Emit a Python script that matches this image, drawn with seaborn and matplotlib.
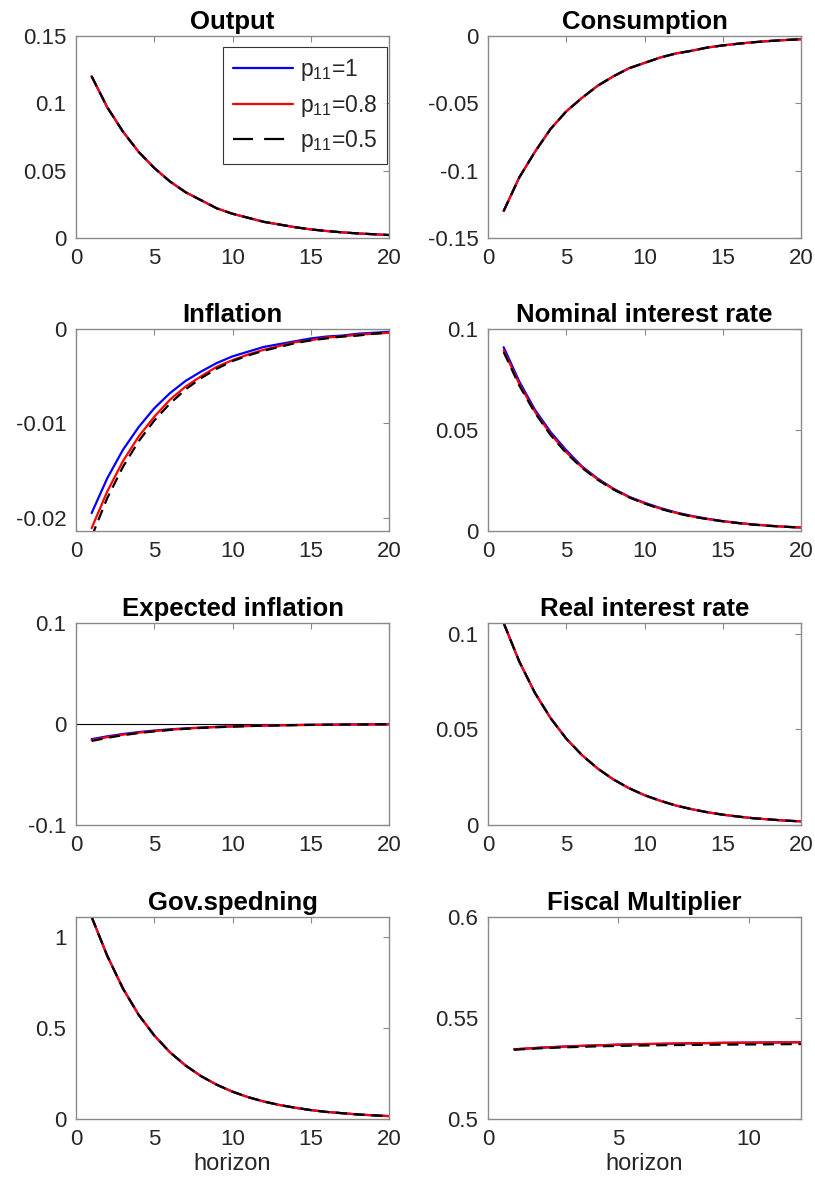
import numpy as np
import matplotlib
matplotlib.use("Agg")
import matplotlib.pyplot as plt
import seaborn as sns

sns.set_theme(style="white")
plt.rcParams["font.family"] = ["Liberation Sans", "DejaVu Sans"]
plt.rcParams["mathtext.fontset"] = "custom"
plt.rcParams["mathtext.rm"] = "Liberation Sans"
plt.rcParams["mathtext.it"] = "Liberation Sans"

horizon = list(range(1, 21))
horizon_fm = list(range(1, 13))
labels = [r"p$_{11}$=1", r"p$_{11}$=0.8", r"p$_{11}$=0.5"]

# Impulse responses: one list per regime (p11=1, p11=0.8, p11=0.5)
output_p1 = [0.120, 0.097, 0.079, 0.064, 0.052, 0.042, 0.034, 0.028, 0.022, 0.018,
             0.015, 0.012, 0.010, 0.008, 0.0064, 0.0052, 0.0042, 0.0034, 0.0028, 0.0022]
output_p08 = list(output_p1)
output_p05 = list(output_p1)

cons_p1 = [-0.130, -0.105, -0.086, -0.069, -0.056, -0.046, -0.037, -0.030, -0.024, -0.020,
           -0.016, -0.013, -0.011, -0.0086, -0.0070, -0.0057, -0.0046, -0.0037, -0.0030, -0.0024]
cons_p08 = list(cons_p1)
cons_p05 = list(cons_p1)

infl_p1 = [-0.0195, -0.0158, -0.0128, -0.0104, -0.0084, -0.0068, -0.0055, -0.0045, -0.0036, -0.0029,
           -0.0024, -0.0019, -0.0016, -0.0013, -0.0010, -0.0008, -0.0007, -0.0005, -0.0004, -0.0003]
infl_p08 = [-0.0211, -0.0172, -0.0140, -0.0114, -0.0093, -0.0075, -0.0061, -0.0050, -0.0040, -0.0033,
            -0.0027, -0.0022, -0.0018, -0.0014, -0.0012, -0.0009, -0.0008, -0.0006, -0.0005, -0.0004]
infl_p05 = [-0.0220, -0.0179, -0.0146, -0.0119, -0.0097, -0.0079, -0.0064, -0.0052, -0.0042, -0.0034,
            -0.0028, -0.0023, -0.0019, -0.0015, -0.0012, -0.0010, -0.0008, -0.0007, -0.0005, -0.0004]

nom_p1 = [0.0910, 0.0740, 0.0600, 0.0490, 0.0400, 0.0320, 0.0260, 0.0210, 0.0170, 0.0140,
          0.0114, 0.0092, 0.0075, 0.0061, 0.0049, 0.0040, 0.0032, 0.0026, 0.0021, 0.0017]
nom_p08 = [0.0895, 0.0728, 0.0590, 0.0480, 0.0390, 0.0316, 0.0256, 0.0208, 0.0168, 0.0137,
           0.0111, 0.0090, 0.0073, 0.0059, 0.0048, 0.0039, 0.0032, 0.0026, 0.0021, 0.0017]
nom_p05 = [0.0886, 0.0720, 0.0585, 0.0475, 0.0386, 0.0313, 0.0254, 0.0206, 0.0167, 0.0136,
           0.0110, 0.0089, 0.0072, 0.0059, 0.0048, 0.0039, 0.0031, 0.0025, 0.0021, 0.0017]

expinf_p1 = [-0.0150, -0.0122, -0.0099, -0.0080, -0.0065, -0.0053, -0.0043, -0.0035, -0.0028, -0.0023,
             -0.0019, -0.0015, -0.0012, -0.0010, -0.0008, -0.0007, -0.0005, -0.0004, -0.0003, -0.0003]
expinf_p08 = [-0.0160, -0.0130, -0.0106, -0.0086, -0.0070, -0.0057, -0.0046, -0.0037, -0.0030, -0.0024,
              -0.0020, -0.0016, -0.0013, -0.0011, -0.0009, -0.0007, -0.0006, -0.0005, -0.0004, -0.0003]
expinf_p05 = [-0.0168, -0.0137, -0.0111, -0.0090, -0.0073, -0.0059, -0.0048, -0.0039, -0.0032, -0.0026,
              -0.0021, -0.0017, -0.0014, -0.0011, -0.0009, -0.0007, -0.0006, -0.0005, -0.0004, -0.0003]

real_p1 = [0.1057, 0.0855, 0.0691, 0.0559, 0.0452, 0.0366, 0.0296, 0.0239, 0.0193, 0.0156,
           0.0127, 0.0102, 0.0083, 0.0067, 0.0054, 0.0044, 0.0035, 0.0029, 0.0023, 0.0019]
real_p08 = list(real_p1)
real_p05 = list(real_p1)

gov_p1 = [1.11, 0.896, 0.717, 0.573, 0.459, 0.367, 0.294, 0.235, 0.188, 0.150,
          0.120, 0.096, 0.077, 0.062, 0.049, 0.039, 0.032, 0.025, 0.020, 0.016]
gov_p08 = list(gov_p1)
gov_p05 = list(gov_p1)

fm_p1 = [0.5345, 0.5353, 0.5359, 0.5364, 0.5368, 0.5371, 0.5373, 0.5375, 0.5377, 0.5378, 0.5379, 0.5380]
fm_p08 = list(fm_p1)
fm_p05 = [0.5343, 0.5350, 0.5355, 0.5359, 0.5362, 0.5364, 0.5366, 0.5367, 0.5368, 0.5369, 0.5370, 0.5371]

panels = [
    ("Output", horizon, (output_p1, output_p08, output_p05), (0, 0.15), [0, 0.05, 0.1, 0.15], ["0", "0.05", "0.1", "0.15"], 20),
    ("Consumption", horizon, (cons_p1, cons_p08, cons_p05), (-0.15, 0), [-0.15, -0.1, -0.05, 0], ["-0.15", "-0.1", "-0.05", "0"], 20),
    ("Inflation", horizon, (infl_p1, infl_p08, infl_p05), (-0.0214, 0), [-0.02, -0.01, 0], ["-0.02", "-0.01", "0"], 20),
    ("Nominal interest rate", horizon, (nom_p1, nom_p08, nom_p05), (0, 0.1), [0, 0.05, 0.1], ["0", "0.05", "0.1"], 20),
    ("Expected inflation", horizon, (expinf_p1, expinf_p08, expinf_p05), (-0.1, 0.1), [-0.1, 0, 0.1], ["-0.1", "0", "0.1"], 20),
    ("Real interest rate", horizon, (real_p1, real_p08, real_p05), (0, 0.1057), [0, 0.05, 0.1], ["0", "0.05", "0.1"], 20),
    ("Gov.spedning", horizon, (gov_p1, gov_p08, gov_p05), (0, 1.11), [0, 0.5, 1], ["0", "0.5", "1"], 20),
    ("Fiscal Multiplier", horizon_fm, (fm_p1, fm_p08, fm_p05), (0.5, 0.6), [0.5, 0.55, 0.6], ["0.5", "0.55", "0.6"], 12),
]

W, H = 815, 1190
fig = plt.figure(figsize=(W / 100, H / 100), dpi=100)

lefts = [76, 488]
tops = [36, 329, 623, 917]
aw, ah = 313, 202

styles = [
    dict(color="#0000ff", linestyle="-"),
    dict(color="#ff0000", linestyle="-"),
    dict(color="black", linestyle=(0, (5, 3))),
]

axcol = "#8a8a8a"
txtcol = "#262626"

for i, (title, xs, series, ylim, yticks, yticklabels, xmax) in enumerate(panels):
    r, c = divmod(i, 2)
    ax = fig.add_axes([lefts[c] / W, 1 - (tops[r] + ah) / H, aw / W, ah / H])
    for ys, st, lab in zip(series, styles, labels):
        sns.lineplot(x=xs, y=ys, ax=ax, linewidth=1.6, label=lab, **st)
    if title == "Expected inflation":
        ax.axhline(0, color="black", linewidth=0.8, zorder=1)
    ax.set_xlim(0, xmax)
    ax.set_ylim(*ylim)
    xt = [0, 5, 10, 15, 20] if xmax == 20 else [0, 5, 10]
    ax.set_xticks(xt)
    ax.set_xticklabels([str(v) for v in xt])
    ax.set_yticks(yticks)
    ax.set_yticklabels(yticklabels)
    ax.tick_params(direction="in", length=4, width=0.8, color=axcol, labelsize=16,
                   labelcolor=txtcol, top=True, right=True, pad=7)
    for s in ax.spines.values():
        s.set_color(axcol)
        s.set_linewidth(1.0)
    ax.set_title(title, fontsize=18.5, fontweight="bold", color="black", pad=5)
    if r == 3:
        ax.set_xlabel("horizon", fontsize=17, color=txtcol, labelpad=2)
    else:
        ax.set_xlabel("")
    ax.set_ylabel("")
    if i == 0:
        leg = ax.legend(loc="upper right", bbox_to_anchor=(0.995, 0.945), fontsize=16.5,
                        frameon=True, fancybox=False, edgecolor="black", handlelength=2.6,
                        borderpad=0.45, labelspacing=0.4, handletextpad=0.3, borderaxespad=0)
        leg.get_frame().set_linewidth(0.8)
        for t in leg.get_texts():
            t.set_color(txtcol)
        leg.get_lines()[2].set_dashes((9, 5))
    else:
        lg = ax.get_legend()
        if lg is not None:
            lg.remove()

fig.savefig("out.png", dpi=100)
